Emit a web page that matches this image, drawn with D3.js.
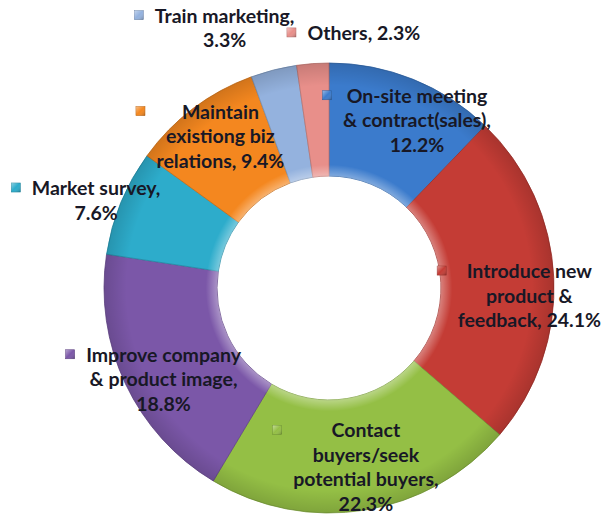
<!DOCTYPE html>
<html>
<head>
<meta charset="utf-8">
<script src="https://cdn.jsdelivr.net/npm/d3@7"></script>
<style>
  html, body { margin: 0; padding: 0; background: #ffffff; }
  svg { display: block; }
  .lbl { font-family: Lato, "Open Sans", sans-serif; font-weight: 700; font-size: 19.5px; fill: #181826; }
</style>
</head>
<body>
<svg id="chart" width="604" height="517"></svg>
<script>
// Activity shares, clockwise from 12 o'clock
const categories = [
  "On-site meeting & contract(sales)",
  "Introduce new product & feedback",
  "Contact buyers/seek potential buyers",
  "Improve company & product image",
  "Market survey",
  "Maintain existiong biz relations",
  "Train marketing",
  "Others"
];
const shares = [12.2, 24.1, 22.3, 18.8, 7.6, 9.4, 3.3, 2.3];

// Label text broken into lines
const labelLines = [
  ["On-site meeting", "& contract(sales),", "12.2%"],
  ["Introduce new", "product &", "feedback, 24.1%"],
  ["Contact", "buyers/seek", "potential buyers,", "22.3%"],
  ["Improve company", "& product image,", "18.8%"],
  ["Market survey,", "7.6%"],
  ["Maintain", "existiong biz", "relations, 9.4%"],
  ["Train marketing,", "3.3%"],
  ["Others, 2.3%"]
];

const colors = ["#3b7bcc", "#c43c35", "#94bf45", "#7b57a8", "#2daccb", "#f4871f", "#94b2de", "#e88f8a"];

// Label anchor offsets from each slice centroid (x of block centre, y of first baseline)
const labelOffsets = [
  [25, -29], [32, -2], [10, -17], [-13, 2],
  [-77, -29], [-7, -35], [-63, -102], [47, -80]
];

const cx = 329, cy = 288;
const outerR = 225, innerR = 112;
const lineH = 24.5;

const svg = d3.select("#chart");
const defs = svg.append("defs");

const color = d3.scaleOrdinal().domain(categories).range(colors);

// Radial sheen shared by all slices (bevelled look)
const sheen = defs.append("radialGradient")
  .attr("id", "sheen").attr("gradientUnits", "userSpaceOnUse")
  .attr("cx", 0).attr("cy", 0).attr("r", outerR);
[[innerR / outerR, "#ffffff", 0.35], [innerR / outerR + 0.05, "#ffffff", 0.0],
 [0.90, "#000000", 0.0], [1.0, "#000000", 0.14]].forEach(([o, c, a]) =>
  sheen.append("stop").attr("offset", o).attr("stop-color", c).attr("stop-opacity", a));

// Bevel shading for the legend keys
const keyGrad = defs.append("linearGradient")
  .attr("id", "keyGrad").attr("x1", 0).attr("y1", 0).attr("x2", 1).attr("y2", 1);
[[0, "#ffffff", 0.45], [0.5, "#ffffff", 0], [1, "#000000", 0.25]].forEach(([o, c, a]) =>
  keyGrad.append("stop").attr("offset", o).attr("stop-color", c).attr("stop-opacity", a));

const pie = d3.pie().value(d => d).sort(null);
const arcs = pie(shares);
const arc = d3.arc().innerRadius(innerR).outerRadius(outerR);
const midArc = d3.arc().innerRadius((innerR + outerR) / 2).outerRadius((innerR + outerR) / 2);

const g = svg.append("g").attr("transform", `translate(${cx},${cy})`);

g.selectAll("path.slice").data(arcs).join("path")
  .attr("class", "slice")
  .attr("d", arc)
  .attr("fill", (d, i) => color(categories[i]))
  .attr("stroke", (d, i) => d3.color(color(categories[i])).darker(0.6))
  .attr("stroke-width", 0.8);

g.selectAll("path.sheen").data(arcs).join("path")
  .attr("class", "sheen")
  .attr("d", arc)
  .attr("fill", "url(#sheen)");

// Data labels with legend keys
const labels = svg.append("g");
arcs.forEach((d, i) => {
  const [mx, my] = midArc.centroid(d);
  const ax = cx + mx + labelOffsets[i][0];
  const ay = cy + my + labelOffsets[i][1];
  const t = labels.append("text").attr("class", "lbl").attr("text-anchor", "middle");
  labelLines[i].forEach((ln, k) => {
    t.append("tspan").attr("x", ax).attr("y", ay + k * lineH).text(ln);
  });
  let maxW = 0;
  t.selectAll("tspan").each(function () { maxW = Math.max(maxW, this.getComputedTextLength()); });
  const left = ax - maxW / 2;
  const c = color(categories[i]);
  const kx = left - 16 - 4.5, ky = ay - 7.5 - 4.5;
  labels.append("rect")
    .attr("x", kx).attr("y", ky).attr("width", 9).attr("height", 9)
    .attr("fill", c)
    .attr("stroke", d3.color(c).darker(0.7)).attr("stroke-width", 0.6);
  labels.append("rect")
    .attr("x", kx).attr("y", ky).attr("width", 9).attr("height", 9)
    .attr("fill", "url(#keyGrad)");
});
</script>
</body>
</html>
